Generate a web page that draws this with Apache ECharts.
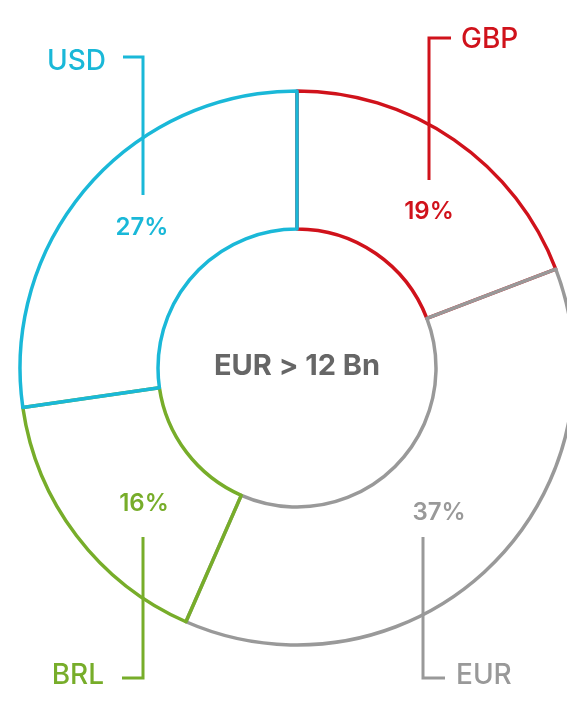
<!DOCTYPE html>
<html>
<head>
<meta charset="utf-8">
<script src="https://cdn.jsdelivr.net/npm/echarts@6/dist/echarts.min.js"></script>
<style>
  html, body { margin: 0; padding: 0; background: #fff; }
  #main { width: 567px; height: 717px; }
</style>
</head>
<body>
<div id="main"></div>
<script>
// 币种占比数据
var currencies = ["GBP", "EUR", "BRL", "USD"];
var shares = [19, 37, 16, 27];
var colors = ["#d0121b", "#999999", "#77ad2a", "#1ab8d8"];
var centerText = "EUR > 12 Bn";

var myChart = echarts.init(document.getElementById("main"));
var font = "Inter, sans-serif";

// 引线 + 币种名称 + 百分比位置
var leaders = [
  { pts: [[429, 180], [429, 38], [451, 38]], tx: 461, ty: 40, align: "left", px: 429, py: 212 },
  { pts: [[423, 537], [423, 678], [445, 678]], tx: 456, ty: 676, align: "left", px: 439, py: 513 },
  { pts: [[143, 537], [143, 678], [122, 678]], tx: 104, ty: 676, align: "right", px: 144, py: 504 },
  { pts: [[143, 195], [143, 57], [123, 57]], tx: 106, ty: 62, align: "right", px: 142, py: 228 }
];
var graphics = [];
leaders.forEach(function (l, i) {
  graphics.push({
    type: "polyline",
    z: 100,
    shape: { points: l.pts },
    style: { stroke: colors[i], lineWidth: 3, fill: null }
  });
  graphics.push({
    type: "text",
    z: 100,
    x: l.tx,
    y: l.ty,
    style: {
      text: currencies[i],
      fill: colors[i],
      font: "500 28px " + font,
      textAlign: l.align,
      textVerticalAlign: "middle"
    }
  });
  graphics.push({
    type: "text",
    z: 100,
    x: l.px,
    y: l.py,
    style: {
      text: shares[i] + "%",
      fill: colors[i],
      font: "600 24px " + font,
      textAlign: "center",
      textVerticalAlign: "middle"
    }
  });
});
graphics.push({
  type: "text",
  z: 100,
  x: 297,
  y: 366,
  style: {
    text: centerText,
    fill: "#666666",
    font: "700 29px " + font,
    textAlign: "center",
    textVerticalAlign: "middle"
  }
});

var option = {
  animation: false,
  graphic: graphics,
  series: [
    {
      type: "pie",
      center: [297, 368],
      radius: [139, 277],
      startAngle: 90,
      clockwise: true,
      avoidLabelOverlap: false,
      label: { show: false },
      labelLine: { show: false },
      emphasis: { disabled: true },
      data: currencies.map(function (c, i) {
        return {
          name: c,
          value: shares[i],
          itemStyle: { color: "rgba(255,255,255,0)", borderColor: colors[i], borderWidth: 3.5 }
        };
      })
    }
  ]
};
myChart.setOption(option);
</script>
</body>
</html>
